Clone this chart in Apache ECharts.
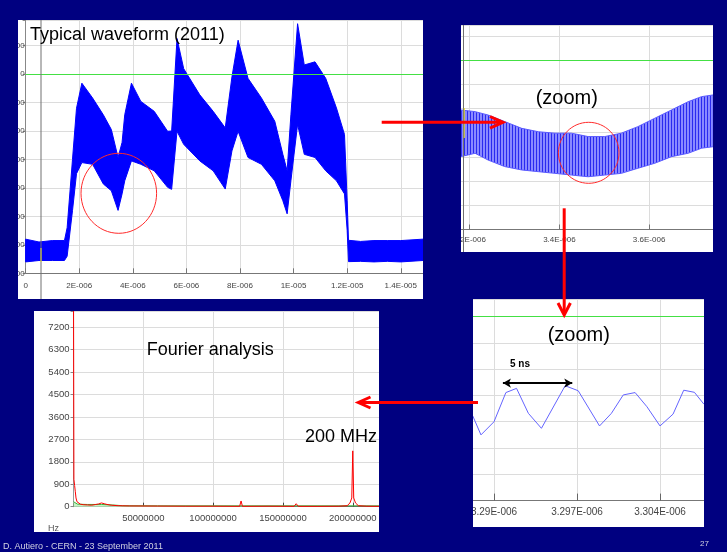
<!DOCTYPE html>
<html>
<head>
<meta charset="utf-8">
<script src="https://cdn.jsdelivr.net/npm/echarts@6/dist/echarts.min.js"></script>
<style>
  html, body { margin: 0; padding: 0; }
  body { width: 727px; height: 552px; background: #000080; position: relative; overflow: hidden; }
  .panel { position: absolute; overflow: hidden; background: #fff; }
  .panel > div { position: absolute; }
  #overlay { position: absolute; left: 0; top: 0; width: 727px; height: 552px; pointer-events: none; }
</style>
</head>
<body>
<div class="panel" style="left:18px;top:20px;width:405px;height:279px"><div id="c1" style="left:0;top:0;width:405px;height:279px"></div></div>
<div class="panel" style="left:461px;top:25px;width:252px;height:227px"><div id="c2" style="left:-81px;top:0;width:333px;height:227px"></div></div>
<div class="panel" style="left:473px;top:299px;width:231px;height:228px"><div id="c3" style="left:-62px;top:0;width:293px;height:228px"></div></div>
<div class="panel" style="left:34px;top:311px;width:345px;height:221px"><div id="c4" style="left:0;top:0;width:345px;height:221px"></div></div>
<div id="overlay"></div>
<script>
// typical waveform, upper / lower envelope of the noisy band (time in 1E-006 s)
const wfTime = [0, 0.5, 1.0, 1.45, 1.55, 1.75, 1.9, 2.1, 2.5, 2.9, 3.2, 3.45, 3.6, 3.7, 3.95, 4.3, 4.8, 5.3, 5.45, 5.65, 5.9, 6.5, 7.0, 7.45, 7.7, 7.93, 8.3, 8.8, 9.3, 9.6, 9.76, 9.9, 10.15, 10.4, 10.8, 11.2, 11.6, 11.9, 12.0, 12.05, 12.5, 13.0, 13.5, 14.0, 14.83];
const wfLow = [0.40, 0.45, 0.45, 0.45, 0.60, 2.20, 3.50, 3.89, 3.83, 3.14, 2.90, 2.21, 2.79, 3.25, 3.95, 3.83, 3.60, 3.02, 2.95, 4.99, 4.53, 3.95, 3.60, 2.96, 4.30, 4.99, 4.07, 3.83, 3.25, 2.55, 2.09, 3.25, 5.23, 4.18, 4.07, 3.60, 3.25, 2.79, 1.51, 0.41, 0.42, 0.40, 0.42, 0.40, 0.45];
const wfHigh = [1.20, 1.10, 1.15, 1.15, 1.60, 4.00, 5.80, 6.68, 6.16, 5.57, 5.05, 4.07, 4.60, 5.57, 6.68, 6.04, 5.69, 4.99, 5.00, 8.25, 7.19, 6.27, 5.69, 5.11, 6.90, 8.19, 6.85, 6.16, 5.34, 4.18, 3.60, 5.57, 8.77, 7.32, 7.43, 6.85, 5.81, 4.88, 2.55, 1.16, 1.12, 1.15, 1.15, 1.15, 1.20];
const wfTicksX = [0, 2, 4, 6, 8, 10, 12, 14];
const wfLabelsX = ["0", "2E-006", "4E-006", "6E-006", "8E-006", "1E-005", "1.2E-005", "1.4E-005"];
const wfTicksY = [0, 1, 2, 3, 4, 5, 6, 7, 8];
const wfLabelsY = ["00", "00", "00", "00", "00", "00", "00", "0", "00"];
const greenLevel = 7;

// first zoom, envelope of the 200 MHz ripple
const zmTime = [3.18, 3.212, 3.241, 3.278, 3.316, 3.353, 3.39, 3.427, 3.464, 3.501, 3.538, 3.575, 3.613, 3.65, 3.687, 3.717, 3.743];
const zmLow = [3.01, 3.15, 2.87, 2.60, 2.46, 2.39, 2.32, 2.25, 2.18, 2.25, 2.32, 2.53, 2.74, 3.01, 3.15, 3.36, 3.42];
const zmHigh = [4.94, 4.87, 4.73, 4.46, 4.18, 4.04, 3.98, 3.98, 3.84, 3.84, 3.98, 4.25, 4.60, 4.94, 5.28, 5.49, 5.56];
const zmTicks = [3.2, 3.4, 3.6];
const zmLabels = ["3.2E-006", "3.4E-006", "3.6E-006"];

// second zoom, samples (time in 1E-009 s)
const nsTime = [3288.2, 3288.9, 3290.0, 3291.0, 3291.9, 3292.9, 3294.0, 3296.0, 3297.1, 3298.9, 3299.9, 3300.9, 3301.9, 3302.9, 3304.0, 3305.1, 3306.0, 3306.9, 3307.7];
const nsValue = [3.23, 2.50, 3.00, 4.11, 4.27, 3.32, 2.75, 4.37, 4.18, 2.84, 3.32, 4.02, 4.11, 3.57, 2.84, 3.29, 4.20, 4.12, 3.67];
const nsTicks = [3290, 3297, 3304];
const nsLabels = ["3.29E-006", "3.297E-006", "3.304E-006"];
const periodMark = [3290.75, 3296.6, 4.47];

// fourier spectrum (frequency in MHz)
const fftFreqRed = [0, 0.3, 0.8, 1.3, 1.8, 2.5, 3.5, 5, 7, 10, 13, 16, 18, 20, 22, 24, 27, 32, 40, 60, 80, 100, 119, 120, 121, 140, 158, 159.5, 161, 175, 190, 196, 198, 199.3, 200, 200.7, 202, 204, 210, 218.8];
const fftRed = [9000, 1100, 850, 600, 350, 200, 130, 100, 80, 70, 60, 90, 110, 150, 120, 90, 60, 40, 30, 25, 20, 20, 15, 230, 15, 20, 15, 120, 15, 15, 20, 40, 150, 350, 2240, 350, 150, 40, 20, 15];
const fftFreqGreen = [0, 1, 3, 10, 20, 28, 35, 60, 218.8];
const fftGreen = [200, 120, 100, 90, 90, 70, 40, 35, 35];
const fftTicksX = [50, 100, 150, 200];
const fftLabelsX = ["50000000", "100000000", "150000000", "200000000"];

const sans = '"Liberation Sans", Arial, sans-serif';
const narrow = '"Liberation Sans Narrow", "Liberation Sans", Arial, sans-serif';
const gridGray = "#dcdcdc";

const pickLabel = (ticks, labels) => (v) => {
  const i = ticks.findIndex((t) => Math.abs(t - v) < 1e-6);
  return i < 0 ? "" : labels[i];
};
const pairs = (xs, ys) => xs.map((x, i) => [x, ys[i]]);

// one polygon between the lower and the upper envelope
const bandSeries = (xs, lows, highs, fill, stroke) => ({
  type: "custom",
  clip: true,
  data: xs.map((x, i) => [x, lows[i], highs[i]]),
  encode: { x: 0, y: [1, 2] },
  renderItem: (params, api) => {
    if (params.dataIndex !== 0) {
      return null;
    }
    const top = xs.map((x, i) => api.coord([x, highs[i]]));
    const bottom = xs.map((x, i) => api.coord([x, lows[i]])).reverse();
    return {
      type: "polygon",
      shape: { points: top.concat(bottom) },
      style: { fill: fill, stroke: stroke, lineWidth: 1 },
    };
  },
});

const stripes = document.createElement("canvas");
stripes.width = 3;
stripes.height = 2;
const sctx = stripes.getContext("2d");
sctx.fillStyle = "#8a8aff";
sctx.fillRect(0, 0, 3, 2);
sctx.fillStyle = "#2a2af0";
sctx.fillRect(0, 0, 1, 2);

const greenLine = (value) => ({
  type: "line",
  symbol: "none",
  data: [],
  markLine: {
    silent: true,
    symbol: "none",
    label: { show: false },
    lineStyle: { color: "#44e044", width: 1, type: "solid" },
    data: [{ yAxis: value }],
  },
});

// panel 1
const c1 = echarts.init(document.getElementById("c1"));
c1.setOption({
  animation: false,
  grid: { left: 7.6, right: 0, top: 0, bottom: 25.7, outerBoundsMode: "none", containLabel: false },
  xAxis: {
    type: "value", min: 0, max: 14.83, interval: 2, offset: 3.4,
    axisLine: { lineStyle: { color: "#777" } },
    axisTick: { inside: true, length: 5, lineStyle: { color: "#777" } },
    axisLabel: { margin: 5, fontSize: 8, color: "#444", fontFamily: narrow, formatter: pickLabel(wfTicksX, wfLabelsX) },
    splitLine: { lineStyle: { color: gridGray } },
  },
  yAxis: {
    type: "value", min: 0, max: 8.9, interval: 1,
    axisLine: { show: true, lineStyle: { color: "#888" } },
    axisTick: { show: true, length: 3, lineStyle: { color: "#888" } },
    axisLabel: { margin: 1, fontSize: 8, color: "#444", fontFamily: narrow, formatter: pickLabel(wfTicksY, wfLabelsY) },
    splitLine: { lineStyle: { color: gridGray } },
  },
  series: [
    greenLine(greenLevel),
    bandSeries(wfTime, wfLow, wfHigh, "#0000ff", "#0000ff"),
  ],
});

// panel 2
const c2 = echarts.init(document.getElementById("c2"));
c2.setOption({
  animation: false,
  grid: { left: 0, right: 0, top: 0, bottom: 22.5, outerBoundsMode: "none", containLabel: false },
  xAxis: {
    type: "value", min: 3.0, max: 3.7425, interval: 0.2, offset: 1.5,
    axisLine: { lineStyle: { color: "#777" } },
    axisTick: { inside: true, length: 5, lineStyle: { color: "#777" } },
    axisLabel: { margin: 5, fontSize: 8, color: "#444", fontFamily: narrow, formatter: pickLabel(zmTicks, zmLabels) },
    splitLine: { lineStyle: { color: gridGray } },
  },
  yAxis: {
    type: "value", min: 0, max: 8.45, interval: 1,
    axisLine: { show: false }, axisTick: { show: false }, axisLabel: { show: false },
    splitLine: { lineStyle: { color: gridGray } },
  },
  series: [
    greenLine(greenLevel),
    bandSeries(zmTime, zmLow, zmHigh, { image: stripes, repeat: "repeat" }, "#5a5aff"),
  ],
});

// panel 3
const c3 = echarts.init(document.getElementById("c3"));
c3.setOption({
  animation: false,
  grid: { left: 0, right: 0, top: 0, bottom: 26.4, outerBoundsMode: "none", containLabel: false },
  xAxis: {
    type: "value", min: 3283, max: 3307.71, interval: 7, offset: 2.7,
    axisLine: { lineStyle: { color: "#777" } },
    axisTick: { inside: true, length: 7, lineStyle: { color: "#666" } },
    axisLabel: { margin: 4, fontSize: 10, color: "#444", fontFamily: sans, formatter: pickLabel(nsTicks, nsLabels) },
    splitLine: { lineStyle: { color: gridGray } },
  },
  yAxis: {
    type: "value", min: 0, max: 7.67, interval: 1,
    axisLine: { show: false }, axisTick: { show: false }, axisLabel: { show: false },
    splitLine: { lineStyle: { color: gridGray } },
  },
  series: [
    greenLine(greenLevel),
    {
      type: "line", symbol: "none", data: pairs(nsTime, nsValue),
      lineStyle: { color: "#6464ff", width: 1 },
      markLine: {
        silent: true,
        symbol: "none",
        label: { show: false },
        lineStyle: { color: "#000", width: 2, type: "solid" },
        data: [
          [
            { coord: [periodMark[0], periodMark[2]], symbol: "arrow", symbolSize: [7, 8] },
            { coord: [periodMark[1], periodMark[2]], symbol: "arrow", symbolSize: [7, 8] },
          ],
        ],
      },
    },
  ],
});

// panel 4
const c4 = echarts.init(document.getElementById("c4"));
c4.setOption({
  animation: false,
  grid: { left: 39.5, right: 0, top: 0, bottom: 25.3, outerBoundsMode: "none", containLabel: false },
  xAxis: {
    type: "value", min: 0, max: 218.8, interval: 50,
    axisLine: { lineStyle: { color: "#666" } },
    axisTick: { inside: true, length: 4, lineStyle: { color: "#444" } },
    axisLabel: { margin: 7, fontSize: 9.5, color: "#444", fontFamily: sans, formatter: pickLabel(fftTicksX, fftLabelsX) },
    splitLine: { lineStyle: { color: gridGray } },
  },
  yAxis: {
    type: "value", min: 0, max: 7852, interval: 900,
    axisLine: { show: true, lineStyle: { color: "#999" } },
    axisTick: { show: true, length: 3, lineStyle: { color: "#888" } },
    axisLabel: { margin: 4, fontSize: 9.5, color: "#444", fontFamily: sans, formatter: (v) => (v % 900 === 0 ? String(v) : "") },
    splitLine: { lineStyle: { color: gridGray } },
  },
  series: [
    {
      type: "line", symbol: "none", data: pairs(fftFreqGreen, fftGreen),
      lineStyle: { color: "#3cb43c", width: 1 },
      areaStyle: { color: "#c4f2c4", opacity: 1 },
    },
    {
      type: "line", symbol: "none", data: pairs(fftFreqRed, fftRed),
      lineStyle: { color: "#ff0000", width: 1 },
    },
  ],
});

// annotations, arrows and footer
const red = "#ff0000";
const arrowStyle = { stroke: red, lineWidth: 3, fill: "none" };
const txt = (text, x, y, size, extra = {}) => ({
  type: "text",
  style: Object.assign({ text, x, y, fill: "#000", font: size + "px " + sans, textVerticalAlign: "middle" }, extra),
});
const overlay = echarts.init(document.getElementById("overlay"));
overlay.setOption({
  animation: false,
  graphic: [
    { type: "line", shape: { x1: 41, y1: 20, x2: 41, y2: 299 }, style: { stroke: "#707070", lineWidth: 1 } },
    { type: "line", shape: { x1: 463.5, y1: 25, x2: 463.5, y2: 252 }, style: { stroke: "#707070", lineWidth: 1 } },
    { type: "line", shape: { x1: 41, y1: 248, x2: 41, y2: 262 }, style: { stroke: "#e8e030", lineWidth: 1 } },
    { type: "line", shape: { x1: 464.3, y1: 108, x2: 464.3, y2: 138 }, style: { stroke: "#e8e030", lineWidth: 1 } },

    { type: "ellipse", shape: { cx: 118.8, cy: 193.3, rx: 37.8, ry: 40 }, style: { fill: "none", stroke: "#ff2a2a", lineWidth: 1 } },
    { type: "ellipse", shape: { cx: 588.7, cy: 152.8, rx: 30.3, ry: 30.5 }, style: { fill: "none", stroke: "#ff2a2a", lineWidth: 1 } },

    { type: "line", shape: { x1: 381.7, y1: 122.3, x2: 501, y2: 122.3 }, style: arrowStyle },
    { type: "polyline", shape: { points: [[490, 116.5], [503, 122.3], [490, 128.1]] }, style: arrowStyle },
    { type: "line", shape: { x1: 564.2, y1: 208.3, x2: 564.2, y2: 313 }, style: arrowStyle },
    { type: "polyline", shape: { points: [[558, 303], [564.2, 315], [570.4, 303]] }, style: arrowStyle },
    { type: "line", shape: { x1: 478, y1: 402.5, x2: 360.5, y2: 402.5 }, style: arrowStyle },
    { type: "polyline", shape: { points: [[370.5, 397], [358.3, 402.5], [370.5, 408]] }, style: arrowStyle },

    txt("Typical waveform (2011)", 30, 35, 18),
    txt("(zoom)", 535.7, 98.5, 20),
    txt("(zoom)", 547.7, 335.5, 20),
    txt("Fourier analysis", 146.7, 350.5, 18),
    txt("200 MHz", 305, 437, 18),
    txt("5 ns", 510, 364.5, 10, { font: "bold 10px " + sans }),
    txt("Hz", 48, 528.3, 9, { fill: "#555" }),

    txt("D. Autiero - CERN - 23 September 2011", 3, 547, 9, { fill: "#d0d0e0" }),
    txt("27", 700, 544, 8, { fill: "#d0d0e0" }),
  ],
});
</script>
</body>
</html>
